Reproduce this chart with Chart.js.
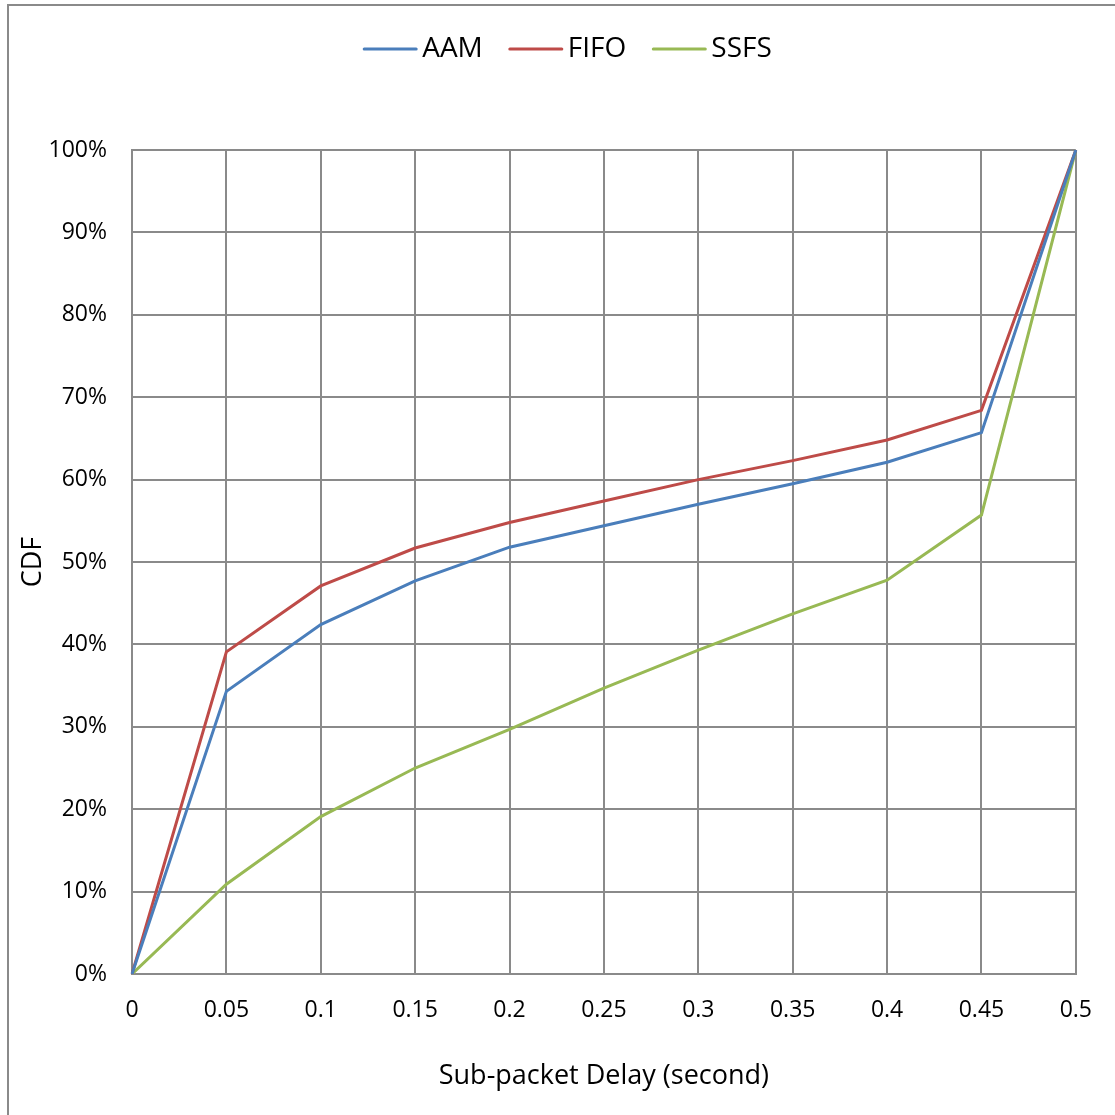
<!DOCTYPE html>
<html>
<head>
<meta charset="utf-8">
<script src="https://cdn.jsdelivr.net/npm/chart.js@4.4.1/dist/chart.umd.min.js"></script>
<style>
  html, body { margin: 0; padding: 0; background: #fff; }
  #wrap { width: 1115px; height: 1115px; position: relative; }
</style>
</head>
<body>
<div id="wrap"><canvas id="cdf"></canvas></div>
<script>
// delay buckets (seconds) and cumulative share per scheduler, in %
const delays = ["0", "0.05", "0.1", "0.15", "0.2", "0.25", "0.3", "0.35", "0.4", "0.45", "0.5"];
const aam  = [0, 34.3, 42.4, 47.7, 51.8, 54.4, 57.0, 59.5, 62.1, 65.7, 100];
const fifo = [0, 39.1, 47.1, 51.7, 54.8, 57.4, 60.0, 62.3, 64.8, 68.4, 100];
const ssfs = [0, 10.9, 19.1, 25.0, 29.7, 34.7, 39.3, 43.7, 47.8, 55.7, 100];
const yTicks = [0, 10, 20, 30, 40, 50, 60, 70, 80, 90, 100];

const FONT = "'Open Sans', sans-serif";
const GRID = "#8a8a8a";

// outer frame around the whole chart
const frame = {
  id: "frame",
  beforeDraw(chart) {
    const ctx = chart.ctx;
    ctx.save();
    ctx.fillStyle = "#fff";
    ctx.fillRect(0, 0, chart.width, chart.height);
    ctx.fillStyle = GRID;
    ctx.fillRect(7, 4, 2, chart.height);
    ctx.fillRect(7, 4, chart.width, 2);
    ctx.restore();
  }
};

// line-style legend across the top
const topLegend = {
  id: "topLegend",
  afterDraw(chart) {
    const ctx = chart.ctx;
    const lineW = 52, gap = 6, spacing = 27, y = 49;
    ctx.save();
    ctx.font = "28px " + FONT;
    ctx.textBaseline = "middle";
    const items = chart.data.datasets.map(ds => ({
      label: ds.label, color: ds.borderColor, w: ctx.measureText(ds.label).width
    }));
    const total = items.reduce((s, it) => s + lineW + gap + it.w, 0) + spacing * (items.length - 1);
    let x = 568 - total / 2;
    items.forEach(it => {
      ctx.strokeStyle = it.color;
      ctx.lineWidth = 3;
      ctx.lineCap = "round";
      ctx.beginPath();
      ctx.moveTo(x, y);
      ctx.lineTo(x + lineW, y);
      ctx.stroke();
      ctx.fillStyle = "#000";
      ctx.fillText(it.label, x + lineW + gap, y);
      x += lineW + gap + it.w + spacing;
    });
    ctx.restore();
  }
};

const line = (label, data, color) => ({
  label, data,
  borderColor: color,
  backgroundColor: color,
  borderWidth: 3,
  pointRadius: 0,
  tension: 0,
  fill: false
});

new Chart(document.getElementById("cdf"), {
  type: "line",
  data: {
    labels: delays,
    datasets: [
      line("AAM", aam, "#4a7ebb"),
      line("FIFO", fifo, "#be4b48"),
      line("SSFS", ssfs, "#98b954")
    ]
  },
  options: {
    responsive: true,
    maintainAspectRatio: false,
    animation: false,
    layout: { padding: { top: 150, right: 38, bottom: 0, left: 0 } },
    plugins: {
      legend: { display: false },
      tooltip: { enabled: false }
    },
    scales: {
      x: {
        offset: false,
        grid: { color: GRID, lineWidth: 2, drawTicks: false },
        border: { color: GRID, width: 2 },
        ticks: { color: "#000", font: { family: FONT, size: 23 }, padding: 23, maxRotation: 0 },
        title: {
          display: true,
          text: "Sub-packet Delay (second)",
          color: "#000",
          font: { family: FONT, size: 27 },
          padding: { top: 22, bottom: 22 }
        },
        afterFit(scale) { scale.height = 141; }
      },
      y: {
        min: 0,
        max: 100,
        afterBuildTicks(scale) { scale.ticks = yTicks.map(v => ({ value: v })); },
        grid: { color: GRID, lineWidth: 2, drawTicks: false },
        border: { color: GRID, width: 2 },
        ticks: {
          color: "#000",
          font: { family: FONT, size: 23 },
          padding: 25,
          callback: v => v + "%"
        },
        title: {
          display: true,
          text: "CDF",
          color: "#000",
          font: { family: FONT, size: 27 },
          padding: { top: 17, bottom: 17 }
        },
        afterFit(scale) { scale.width = 132; }
      }
    }
  },
  plugins: [frame, topLegend]
});
</script>
</body>
</html>
